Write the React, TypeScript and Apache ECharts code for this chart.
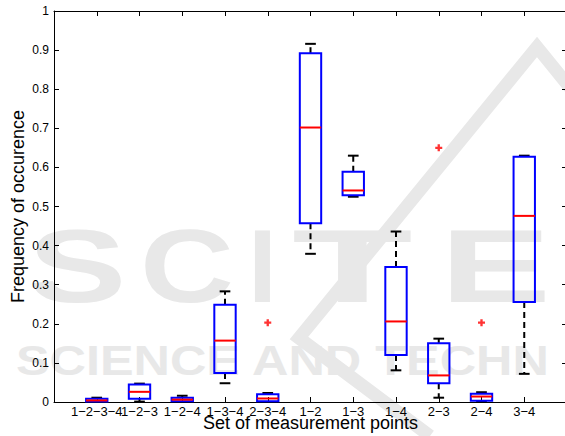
import React, { useEffect, useRef } from "react";
import * as echarts from "echarts";

// Categories (sets of measurement points)
const categories = ["1−2−3−4", "1−2−3", "1−2−4", "1−3−4", "2−3−4", "1−2", "1−3", "1−4", "2−3", "2−4", "3−4"];

// Box plot statistics
const lowerWhisker = [0.0, 0.001, 0.0, 0.048, 0.0, 0.379, 0.525, 0.081, 0.011, 0.001, 0.072];
const q1 = [0.001, 0.008, 0.002, 0.074, 0.002, 0.457, 0.529, 0.12, 0.048, 0.003, 0.256];
const medians = [0.004, 0.026, 0.006, 0.157, 0.009, 0.702, 0.541, 0.206, 0.068, 0.014, 0.476];
const q3 = [0.008, 0.045, 0.011, 0.249, 0.02, 0.892, 0.589, 0.345, 0.15, 0.021, 0.627];
const upperWhisker = [0.011, 0.047, 0.016, 0.283, 0.023, 0.916, 0.63, 0.436, 0.162, 0.025, 0.63];

// Outliers: [category number (1-based), value]
const outlierCategory = [5, 9, 10];
const outlierValue = [0.203, 0.65, 0.203];

// Y ticks
const yTicks = [0, 0.1, 0.2, 0.3, 0.4, 0.5, 0.6, 0.7, 0.8, 0.9, 1];

const FONT = "'Liberation Sans', Arial, Helvetica, sans-serif";
const WM = "#e8e8e8";

export default function App() {
  const ref = useRef<HTMLDivElement>(null);

  useEffect(() => {
    if (!ref.current) return;
    const chart = echarts.init(ref.current, null, { renderer: "svg" });

    const boxData = categories.map((_, i) => [
      i + 1,
      lowerWhisker[i],
      q1[i],
      medians[i],
      q3[i],
      upperWhisker[i],
    ]);
    const outlierData = outlierCategory.map((c, i) => [c, outlierValue[i]]);

    const axisLine = { show: true, onZero: false, lineStyle: { color: "#000", width: 1 } };
    const axisTick = { show: true, inside: true, length: 5, lineStyle: { color: "#000", width: 1 } };

    const wmLetter = (ch: string, x: number, sx: number) => ({
      type: "text",
      x,
      y: 266,
      scaleX: sx,
      z: -10,
      silent: true,
      style: {
        text: ch,
        fill: WM,
        font: `bold 104px ${FONT}`,
        textAlign: "left",
        textVerticalAlign: "middle",
      },
    });

    chart.setOption({
      animation: false,
      backgroundColor: "#fff",
      graphic: {
        elements: [
          {
            type: "polyline",
            z: -10,
            silent: true,
            shape: { points: [[430, 436], [299, 338], [537, 47], [580, 100]] },
            style: { stroke: WM, lineWidth: 13, fill: "none" },
          },
          wmLetter("S", 28, 1.42),
          wmLetter("C", 140, 1.25),
          wmLetter("I", 248, 1.0),
          wmLetter("T", 292, 1.9),
          wmLetter("E", 440, 1.6),
          {
            type: "text",
            x: 16,
            y: 361,
            scaleX: 1.2,
            z: -10,
            silent: true,
            style: {
              text: "SCIENCE AND TECHN",
              fill: WM,
              font: `bold 42px ${FONT}`,
              textAlign: "left",
              textVerticalAlign: "middle",
            },
          },
        ],
      },
      grid: {
        left: 54,
        top: 11,
        width: 513,
        height: 391,
        containLabel: false,
        outerBoundsMode: "none",
      },
      xAxis: [
        {
          type: "value",
          position: "bottom",
          min: 0,
          max: 12,
          interval: 1,
          name: "Set of measurement points",
          nameLocation: "middle",
          nameGap: 15,
          nameMoveOverlap: false,
          nameTextStyle: { color: "#000", fontSize: 18, lineHeight: 12, fontFamily: FONT },
          axisLine,
          axisTick,
          splitLine: { show: false },
          axisLabel: {
            margin: 3,
            color: "#000",
            fontSize: 13,
            lineHeight: 12,
            fontFamily: FONT,
            hideOverlap: false,
            formatter: (v: number) => categories[Math.round(v) - 1] ?? "",
          },
        },
        {
          type: "value",
          position: "top",
          min: 0,
          max: 12,
          interval: 1,
          axisLine,
          axisTick,
          splitLine: { show: false },
          axisLabel: { show: false },
        },
      ],
      yAxis: [
        {
          type: "value",
          position: "left",
          min: 0,
          max: 1,
          interval: 0.1,
          name: "Frequency of occurence",
          nameLocation: "middle",
          nameGap: 27,
          nameMoveOverlap: false,
          nameTextStyle: { color: "#000", fontSize: 18, fontFamily: FONT },
          axisLine,
          axisTick,
          splitLine: { show: false },
          axisLabel: {
            margin: 5,
            color: "#000",
            fontSize: 12,
            fontFamily: FONT,
            formatter: (v: number) => {
              const t = yTicks.find((k) => Math.abs(k - v) < 1e-6);
              const val = t ?? v;
              return val === 0 ? "0" : val === 1 ? "1" : val.toFixed(1);
            },
          },
        },
        {
          type: "value",
          position: "right",
          min: 0,
          max: 1,
          interval: 0.1,
          axisLine,
          axisTick,
          splitLine: { show: false },
          axisLabel: { show: false },
        },
      ],
      series: [
        {
          type: "custom",
          xAxisIndex: 0,
          yAxisIndex: 0,
          data: boxData,
          encode: { x: 0, y: [1, 2, 3, 4, 5] },
          clip: false,
          renderItem: (params: any, api: any) => {
            const x = api.value(0);
            const lo = api.coord([x, api.value(1)]);
            const b1 = api.coord([x, api.value(2)]);
            const md = api.coord([x, api.value(3)]);
            const b3 = api.coord([x, api.value(4)]);
            const hi = api.coord([x, api.value(5)]);
            const halfBox = api.size([0.25, 0])[0];
            const halfCap = api.size([0.125, 0])[0];
            const cx = lo[0];
            const whisk = { stroke: "#000", lineWidth: 2, lineDash: [6, 4] };
            const cap = { stroke: "#000", lineWidth: 2 };
            return {
              type: "group",
              children: [
                { type: "line", shape: { x1: cx, y1: b3[1], x2: cx, y2: hi[1] }, style: whisk },
                { type: "line", shape: { x1: cx, y1: b1[1], x2: cx, y2: lo[1] }, style: whisk },
                { type: "line", shape: { x1: cx - halfCap, y1: hi[1], x2: cx + halfCap, y2: hi[1] }, style: cap },
                { type: "line", shape: { x1: cx - halfCap, y1: lo[1], x2: cx + halfCap, y2: lo[1] }, style: cap },
                {
                  type: "rect",
                  shape: { x: cx - halfBox, y: b3[1], width: halfBox * 2, height: b1[1] - b3[1] },
                  style: { fill: "none", stroke: "#0000ff", lineWidth: 2 },
                },
                {
                  type: "line",
                  shape: { x1: cx - halfBox, y1: md[1], x2: cx + halfBox, y2: md[1] },
                  style: { stroke: "#ff0000", lineWidth: 2 },
                },
              ],
            };
          },
        },
        {
          type: "scatter",
          xAxisIndex: 0,
          yAxisIndex: 0,
          data: outlierData,
          symbol: "path://M2,0H4V2H6V4H4V6H2V4H0V2H2Z",
          symbolSize: 7,
          itemStyle: { color: "#ff0000" },
        },
      ],
    });

    return () => chart.dispose();
  }, []);

  return (
    <div
      ref={ref}
      style={{ position: "absolute", left: 0, top: 0, width: 565, height: 436 }}
    />
  );
}
